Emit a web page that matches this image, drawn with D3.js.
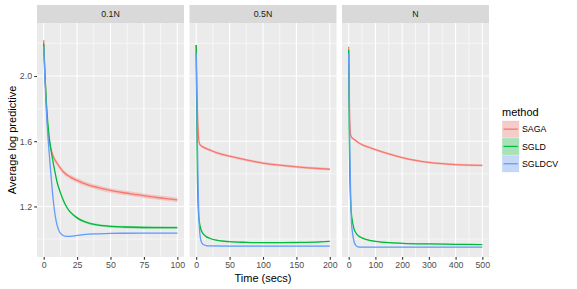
<!DOCTYPE html>
<html>
<head>
<meta charset="utf-8">
<script src="https://cdn.jsdelivr.net/npm/d3@7.9.0/dist/d3.min.js"></script>
<style>
  body { margin: 0; background: #fff; }
  svg { display: block; font-family: "Liberation Sans", Arial, sans-serif; }
</style>
</head>
<body>
<div id="chart"></div>
<script>
// facets, methods, ticks
const panels = ['0.1N', '0.5N', 'N'];
const xMax = [100, 200, 500];
const xTicks = [[0, 25, 50, 75, 100], [0, 50, 100, 150, 200], [0, 100, 200, 300, 400, 500]];
const yTicks = [1.2, 1.6, 2.0];
const methods = ['SAGA', 'SGLD', 'SGLDCV'];
const colors = ['#F8766D', '#00BA38', '#619CFF'];

// ribbon half-widths [panel][method]
const ribbonHalf = [[0.014, 0.007, 0.002], [0.008, 0.003, 0.002], [0.007, 0.003, 0.002]];

// [time, average log predictive]
const saga01 = [[0,2.22],[1,2.0],[2,1.82],[3,1.69],[4,1.61],[5,1.565],[6,1.535],[7.5,1.50],[10,1.465],[12.5,1.435],[15,1.41],[20,1.38],[25,1.36],[30,1.342],[40,1.317],[50,1.298],[60,1.284],[70,1.272],[80,1.26],[90,1.25],[100,1.24]];
const sgld01 = [[0,2.2],[1,2.0],[2,1.84],[3,1.72],[4,1.635],[5,1.575],[6,1.52],[8,1.43],[10,1.35],[12.5,1.285],[15,1.232],[17.5,1.192],[20,1.165],[25,1.13],[30,1.108],[35,1.095],[40,1.087],[50,1.078],[60,1.074],[75,1.071],[100,1.07]];
const sgldcv01 = [[0,2.18],[1,1.97],[2,1.79],[3,1.65],[4,1.54],[5,1.44],[6,1.34],[7,1.25],[8,1.18],[9,1.125],[10,1.085],[12,1.042],[14,1.025],[17,1.017],[20,1.017],[25,1.022],[30,1.027],[40,1.032],[50,1.035],[75,1.036],[100,1.036]];

const saga05 = [[0,2.19],[1,1.95],[2,1.78],[3,1.67],[4,1.605],[5,1.585],[7,1.573],[10,1.565],[20,1.547],[30,1.53],[50,1.508],[75,1.485],[100,1.466],[125,1.453],[150,1.443],[175,1.435],[200,1.428]];
const sgld05 = [[0,2.19],[0.5,1.95],[1,1.7],[2,1.35],[3,1.2],[4,1.13],[5,1.1],[7,1.06],[10,1.035],[15,1.015],[20,1.005],[30,0.993],[50,0.984],[75,0.98],[100,0.978],[125,0.978],[150,0.979],[175,0.981],[200,0.986]];
const sgldcv05 = [[0,2.14],[1,1.85],[2,1.55],[3,1.3],[4,1.14],[5,1.06],[6,1.015],[8,0.98],[10,0.968],[15,0.96],[20,0.958],[50,0.957],[100,0.957],[150,0.957],[200,0.957]];

const sagaN = [[0,2.18],[2,1.9],[4,1.73],[6,1.66],[8,1.635],[10,1.627],[20,1.612],[40,1.588],[60,1.572],[80,1.56],[100,1.548],[150,1.522],[200,1.5],[250,1.483],[300,1.47],[350,1.462],[400,1.457],[450,1.454],[500,1.452]];
const sgldN = [[0,2.16],[1,1.9],[2,1.68],[4,1.42],[6,1.29],[8,1.21],[10,1.16],[15,1.1],[20,1.062],[25,1.043],[30,1.03],[40,1.016],[50,1.007],[75,0.993],[100,0.986],[150,0.978],[200,0.974],[300,0.97],[400,0.968],[500,0.966]];
const sgldcvN = [[0,2.14],[2,1.85],[4,1.58],[6,1.38],[8,1.23],[10,1.12],[12,1.07],[15,1.03],[20,0.985],[25,0.965],[30,0.956],[40,0.951],[60,0.95],[100,0.95],[300,0.95],[500,0.95]];

const seriesByPanel = [[saga01, sgld01, sgldcv01], [saga05, sgld05, sgldcv05], [sagaN, sgldN, sgldcvN]];

const width = 577, height = 289;
const panelW = 147, gap = 5.5;
const plotLeft = 37, plotTop = 23, plotBottom = 257, stripTop = 5;

const svg = d3.select('#chart').append('svg')
  .attr('width', width).attr('height', height);

const y = d3.scaleLinear().domain([0.89, 2.325]).range([plotBottom, plotTop]);
const yMinor = [1.0, 1.4, 1.8, 2.2];

panels.forEach((name, i) => {
  const x0 = plotLeft + i * (panelW + gap);
  const span = xMax[i];
  const x = d3.scaleLinear().domain([-0.05 * span, 1.05 * span]).range([x0, x0 + panelW]);
  const ticks = xTicks[i];
  const step = ticks[1] - ticks[0];
  const xMinor = ticks.map(t => t + step / 2).filter(t => t < 1.05 * span);

  const g = svg.append('g');
  g.append('rect').attr('x', x0).attr('y', plotTop).attr('width', panelW)
    .attr('height', plotBottom - plotTop).attr('fill', '#EBEBEB');

  // gridlines
  g.selectAll('.ymin').data(yMinor).join('line')
    .attr('x1', x0).attr('x2', x0 + panelW)
    .attr('y1', d => y(d)).attr('y2', d => y(d))
    .attr('stroke', '#fff').attr('stroke-width', 0.55);
  g.selectAll('.xmin').data(xMinor).join('line')
    .attr('y1', plotTop).attr('y2', plotBottom)
    .attr('x1', d => x(d)).attr('x2', d => x(d))
    .attr('stroke', '#fff').attr('stroke-width', 0.55);
  g.selectAll('.ymaj').data(yTicks).join('line')
    .attr('x1', x0).attr('x2', x0 + panelW)
    .attr('y1', d => y(d)).attr('y2', d => y(d))
    .attr('stroke', '#fff').attr('stroke-width', 1.1);
  g.selectAll('.xmaj').data(ticks).join('line')
    .attr('y1', plotTop).attr('y2', plotBottom)
    .attr('x1', d => x(d)).attr('x2', d => x(d))
    .attr('stroke', '#fff').attr('stroke-width', 1.1);

  // strip
  g.append('rect').attr('x', x0).attr('y', stripTop).attr('width', panelW)
    .attr('height', plotTop - stripTop).attr('fill', '#D9D9D9');
  g.append('text').attr('x', x0 + panelW / 2).attr('y', (stripTop + plotTop) / 2)
    .attr('dy', '0.35em').attr('text-anchor', 'middle')
    .attr('font-size', 8.8).attr('fill', '#1A1A1A').text(name);

  const clipId = 'clip' + i;
  svg.append('clipPath').attr('id', clipId).append('rect')
    .attr('x', x0).attr('y', plotTop).attr('width', panelW).attr('height', plotBottom - plotTop);
  const data = g.append('g').attr('clip-path', `url(#${clipId})`);

  const area = d3.area().curve(d3.curveMonotoneX).x(d => x(d[0]));
  const line = d3.line().curve(d3.curveMonotoneX).x(d => x(d[0])).y(d => y(d[1]));

  seriesByPanel[i].forEach((s, m) => {
    const h = ribbonHalf[i][m];
    data.append('path').datum(s)
      .attr('d', area.y0(d => y(d[1] - h)).y1(d => y(d[1] + h)))
      .attr('fill', colors[m]).attr('fill-opacity', 0.3);
  });
  seriesByPanel[i].forEach((s, m) => {
    data.append('path').datum(s).attr('d', line)
      .attr('fill', 'none').attr('stroke', colors[m]).attr('stroke-width', 1.3);
  });

  // x axis
  const xa = g.append('g').attr('transform', `translate(0,${plotBottom})`)
    .call(d3.axisBottom(x).tickValues(ticks).tickSize(2.75).tickPadding(2.2).tickFormat(d3.format('d')));
  xa.select('.domain').remove();
  xa.selectAll('line').attr('stroke', '#333333').attr('stroke-width', 1.1);
  xa.selectAll('text').attr('font-size', 8.8).attr('fill', '#4D4D4D').attr('font-family', null);
  xa.attr('font-family', null);
});

// y axis
const ya = svg.append('g').attr('transform', `translate(${plotLeft},0)`)
  .call(d3.axisLeft(y).tickValues(yTicks).tickSize(2.75).tickPadding(2.2).tickFormat(d3.format('.1f')));
ya.select('.domain').remove();
ya.attr('font-family', null);
ya.selectAll('line').attr('stroke', '#333333').attr('stroke-width', 1.1);
ya.selectAll('text').attr('font-size', 8.8).attr('fill', '#4D4D4D');

// axis titles
const plotRight = plotLeft + 3 * panelW + 2 * gap;
svg.append('text').attr('x', (plotLeft + plotRight) / 2).attr('y', 282)
  .attr('text-anchor', 'middle').attr('font-size', 11).attr('fill', '#000')
  .text('Time (secs)');
svg.append('text')
  .attr('transform', `translate(16,${(plotTop + plotBottom) / 2}) rotate(-90)`)
  .attr('text-anchor', 'middle').attr('font-size', 11).attr('fill', '#000')
  .text('Average log predictive');

// legend
const lg = svg.append('g').attr('transform', 'translate(502,0)');
lg.append('text').attr('x', 0).attr('y', 116).attr('font-size', 11).attr('fill', '#000').text('method');
methods.forEach((m, k) => {
  const ky = 120.5 + k * 17.3;
  lg.append('rect').attr('x', 0.5).attr('y', ky + 0.5).attr('width', 16.3).attr('height', 16.3)
    .attr('fill', '#F2F2F2');
  lg.append('rect').attr('x', 0.5).attr('y', ky + 0.5).attr('width', 16.3).attr('height', 16.3)
    .attr('fill', colors[k]).attr('fill-opacity', 0.3)
    .attr('stroke', colors[k]).attr('stroke-opacity', 0.15);
  lg.append('line').attr('x1', 1.5).attr('x2', 15.8).attr('y1', ky + 8.65).attr('y2', ky + 8.65)
    .attr('stroke', colors[k]).attr('stroke-width', 1.3);
  lg.append('text').attr('x', 20).attr('y', ky + 8.65).attr('dy', '0.35em')
    .attr('font-size', 8.8).attr('fill', '#000').text(m);
});
</script>
</body>
</html>
